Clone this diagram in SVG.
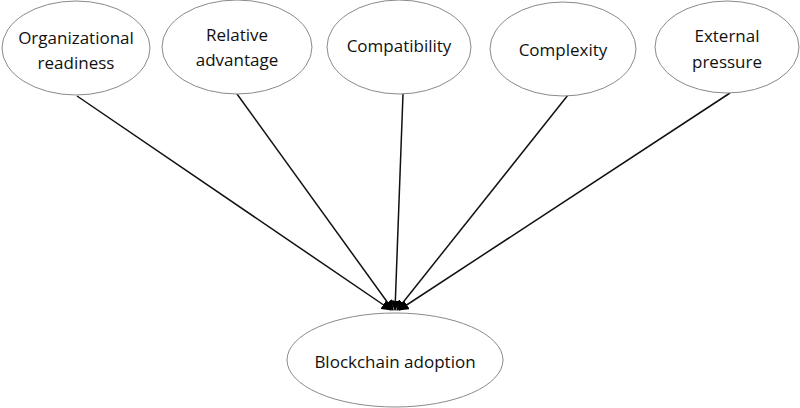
<svg xmlns="http://www.w3.org/2000/svg" width="800" height="408" viewBox="0 0 800 408">
<style>
.n{fill:#fff;stroke:#8a8a8a;stroke-width:1}
.t{font-family:"Open Sans","Liberation Sans",sans-serif;font-size:17px;fill:#111;text-anchor:middle}
.c{stroke:#111;stroke-width:1.5;fill:none;marker-end:url(#a)}
</style>
<defs>
<marker id="a" viewBox="0 0 10 10" refX="9" refY="5" markerWidth="7" markerHeight="7" orient="auto" markerUnits="strokeWidth">
<path d="M0,0L10,5L0,10z" fill="#000"/>
</marker>
</defs>
<rect width="800" height="408" fill="#fff"/>
<g id="connectors">
<line class="c" x1="77" y1="96" x2="391" y2="310"/>
<line class="c" x1="237" y1="94" x2="393" y2="310"/>
<line class="c" x1="403" y1="94" x2="395" y2="310"/>
<line class="c" x1="568" y1="95" x2="397" y2="310"/>
<line class="c" x1="730" y1="93" x2="399" y2="310"/>
</g>
<g id="organizational-readiness">
<ellipse class="n" cx="76" cy="48" rx="74" ry="47"/>
<text class="t" x="76" y="44">Organizational</text>
<text class="t" x="76" y="69">readiness</text>
</g>
<g id="relative-advantage">
<ellipse class="n" cx="237" cy="47" rx="75" ry="47"/>
<text class="t" x="237" y="41">Relative</text>
<text class="t" x="237" y="66">advantage</text>
</g>
<g id="compatibility">
<ellipse class="n" cx="399" cy="47" rx="72" ry="47"/>
<text class="t" x="399" y="52">Compatibility</text>
</g>
<g id="complexity">
<ellipse class="n" cx="563" cy="49" rx="73" ry="47"/>
<text class="t" x="563" y="56">Complexity</text>
</g>
<g id="external-pressure">
<ellipse class="n" cx="727" cy="47" rx="72" ry="46"/>
<text class="t" x="727" y="42">External</text>
<text class="t" x="727" y="68">pressure</text>
</g>
<g id="blockchain-adoption">
<ellipse class="n" cx="395" cy="360" rx="108" ry="47"/>
<text class="t" x="395" y="368">Blockchain adoption</text>
</g>
</svg>
